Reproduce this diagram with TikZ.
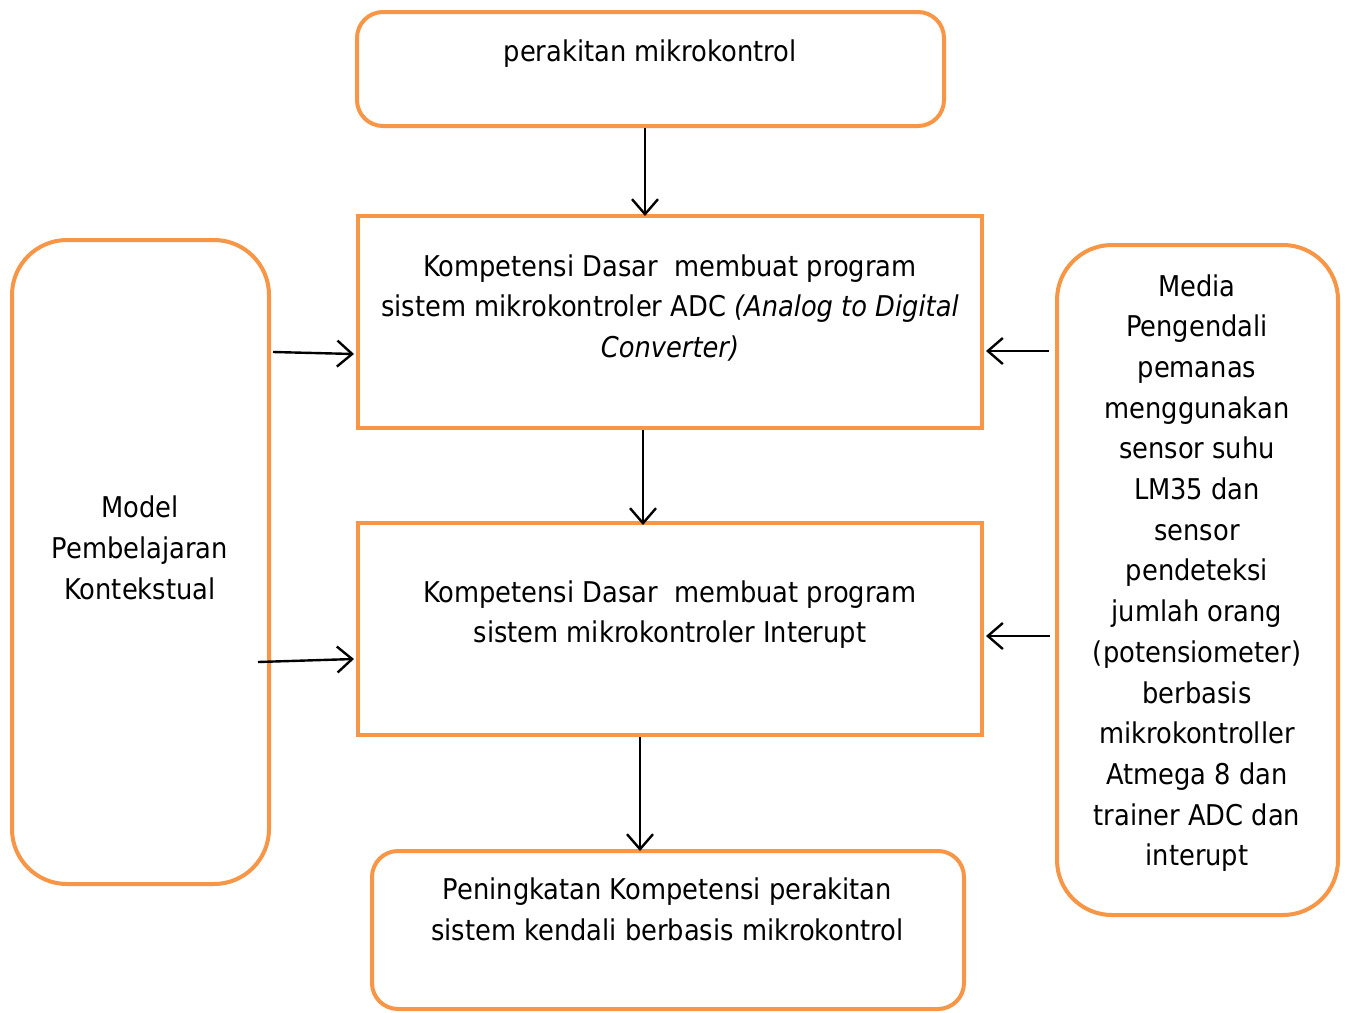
\documentclass[tikz,border=0pt]{standalone}
\usepackage{fontspec}
\setmainfont{DejaVu Sans Condensed}
\usetikzlibrary{arrows.meta}
\definecolor{boxorange}{RGB}{247,150,70}
\begin{document}
\begin{tikzpicture}[x=1pt,y=-1pt,
  box/.style={draw=boxorange,line width=4pt,inner sep=0pt,minimum width=#1},
  rbox/.style={box=#1,rounded corners=26pt},
  txt/.style={align=center,inner sep=0pt,font=\fontsize{28.6}{40.7}\selectfont},
  conn/.style={line width=2.4pt,-{Straight Barb[length=15pt,width=26pt,line width=2.4pt]}}]
\useasboundingbox[fill=white] (0,0) rectangle (1346,1012);
% boxes
\node[rbox=587pt,minimum height=114pt] (top) at (650.5,69) {};
\node[box=624pt,minimum height=212pt] (adc) at (670,322) {};
\node[box=624pt,minimum height=212pt] (intr) at (670,629) {};
\node[rbox=592pt,minimum height=158pt] (bot) at (668,930) {};
\node[box=257pt,minimum height=644pt,rounded corners=55pt] (left) at (140.5,562) {};
\node[box=281pt,minimum height=670pt,rounded corners=55pt] (right) at (1197.5,580) {};
% texts
\node[txt] (ttop) at (650,54) {perakitan mikrokontrol};
\node[txt] (tadc) at (670,308) {Kompetensi Dasar\ \ membuat program\\sistem mikrokontroler ADC \textit{(Analog to Digital}\\\textit{Converter)}};
\node[txt] (tintr) at (670,614.5) {Kompetensi Dasar\ \ membuat program\\sistem mikrokontroler Interupt};
\node[txt] (tbot) at (667.5,909.5) {Peningkatan Kompetensi perakitan\\sistem kendali berbasis mikrokontrol};
\node[txt] (tleft) at (140,548) {Model\\Pembelajaran\\Kontekstual};
\node[txt] (tright) at (1197,573) {Media\\Pengendali\\pemanas\\menggunakan\\sensor suhu\\LM35 dan\\sensor\\pendeteksi\\jumlah orang\\(potensiometer)\\berbasis\\mikrokontroller\\Atmega 8 dan\\trainer ADC dan\\interupt};
% connectors
\coordinate (l2) at (258,662);
\draw[conn] (top.south -| 645,0) -- ([yshift=-2pt]adc.north -| 645,0);
\draw[conn] (adc.south -| 643,0) -- ([yshift=-4pt]intr.north -| 643,0);
\draw[conn] (intr.south -| 640,0) -- ([yshift=-2pt]bot.north -| 640,0);
\draw[conn] ([xshift=2pt]left.east |- 0,352) -- ([xshift=-2pt]adc.west |- 0,354);
\draw[conn] (l2) -- ([xshift=-2pt]intr.west |- 0,659);
\draw[conn] ([xshift=-6pt]right.west |- 0,351) -- ([xshift=2pt]adc.east |- 0,351);
\draw[conn] ([xshift=-5pt]right.west |- 0,636) -- ([xshift=2pt]intr.east |- 0,636);
\end{tikzpicture}
\end{document}
